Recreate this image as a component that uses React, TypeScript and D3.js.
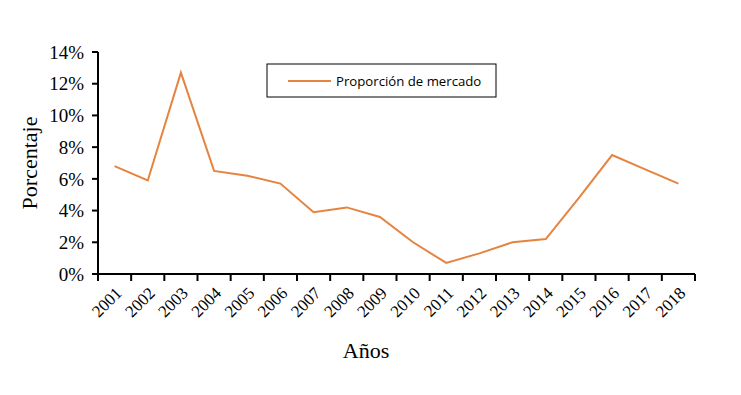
import React, { useEffect, useRef } from "react";
import * as d3 from "d3";

const years = ["2001","2002","2003","2004","2005","2006","2007","2008","2009","2010","2011","2012","2013","2014","2015","2016","2017","2018"];
const share = [6.8, 5.9, 12.7, 6.5, 6.2, 5.7, 3.9, 4.2, 3.6, 2.0, 0.7, 1.3, 2.0, 2.2, 4.8, 7.5, 6.6, 5.7];
const yTicks = [0, 2, 4, 6, 8, 10, 12, 14];
const seriesName = "Proporción de mercado";
const xTitle = "Años";
const yTitle = "Porcentaje";

export default function App() {
  const ref = useRef<SVGSVGElement>(null);
  useEffect(() => {
    const svg = d3.select(ref.current);
    svg.selectAll("*").remove();
    const left = 98, right = 695, top = 52, bottom = 274;
    const x = d3.scaleBand().domain(years).range([left, right]);
    const y = d3.scaleLinear().domain([0, 14]).range([bottom, top]);
    const color = "#E5843F";
    const serif = "'Liberation Serif', 'Times New Roman', serif";

    svg.append("rect").attr("width", 741).attr("height", 395).attr("fill", "#fff");

    const line = d3.line<number>()
      .x((_, i) => (x(years[i]) as number) + x.bandwidth() / 2)
      .y(d => y(d));
    svg.append("path").datum(share).attr("d", line).attr("fill", "none")
      .attr("stroke", color).attr("stroke-width", 2).attr("stroke-linejoin", "miter");

    const g = svg.append("g");
    g.append("line").attr("x1", left).attr("x2", left).attr("y1", top).attr("y2", bottom + 1)
      .attr("stroke", "#000").attr("stroke-width", 2);
    yTicks.forEach(t => {
      g.append("line").attr("x1", left - 6).attr("x2", left).attr("y1", y(t)).attr("y2", y(t))
        .attr("stroke", "#000").attr("stroke-width", 2);
      g.append("text").attr("x", 84).attr("y", y(t)).attr("dy", "0.35em")
        .attr("text-anchor", "end").attr("font-family", serif).attr("font-size", 19)
        .attr("fill", "#000").text(`${t}%`);
    });

    g.append("line").attr("x1", left - 1).attr("x2", right).attr("y1", bottom).attr("y2", bottom)
      .attr("stroke", "#000").attr("stroke-width", 2);
    const ticks = years.map(yr => x(yr) as number).concat([right]);
    ticks.forEach(tx => {
      g.append("line").attr("x1", tx).attr("x2", tx).attr("y1", bottom).attr("y2", bottom + 7)
        .attr("stroke", "#000").attr("stroke-width", 2);
    });
    years.forEach(yr => {
      const cx = (x(yr) as number) + x.bandwidth() / 2 + 4;
      const cy = bottom + 16;
      g.append("text").attr("transform", `translate(${cx},${cy}) rotate(-45)`)
        .attr("text-anchor", "end").attr("dy", "0.35em")
        .attr("font-family", serif).attr("font-size", 17).attr("fill", "#000").text(yr);
    });

    svg.append("text").attr("x", 366).attr("y", 358).attr("text-anchor", "middle")
      .attr("font-family", serif).attr("font-size", 22).attr("fill", "#000").text(xTitle);
    svg.append("text").attr("transform", `translate(37,163) rotate(-90)`).attr("text-anchor", "middle")
      .attr("font-family", serif).attr("font-size", 22).attr("fill", "#000").text(yTitle);

    const lg = svg.append("g");
    lg.append("rect").attr("x", 267).attr("y", 64).attr("width", 229).attr("height", 33)
      .attr("fill", "#fff").attr("stroke", "#000").attr("stroke-width", 1);
    lg.append("line").attr("x1", 288).attr("x2", 331).attr("y1", 81).attr("y2", 81)
      .attr("stroke", color).attr("stroke-width", 2);
    lg.append("text").attr("x", 336).attr("y", 81).attr("dy", "0.35em")
      .attr("font-family", "'Open Sans', 'Noto Sans', sans-serif").attr("font-size", 13.2)
      .attr("fill", "#000").text(seriesName);
  }, []);
  return <svg ref={ref} width={741} height={395} style={{ display: "block", position: "absolute", left: 0, top: 0 }} />;
}
